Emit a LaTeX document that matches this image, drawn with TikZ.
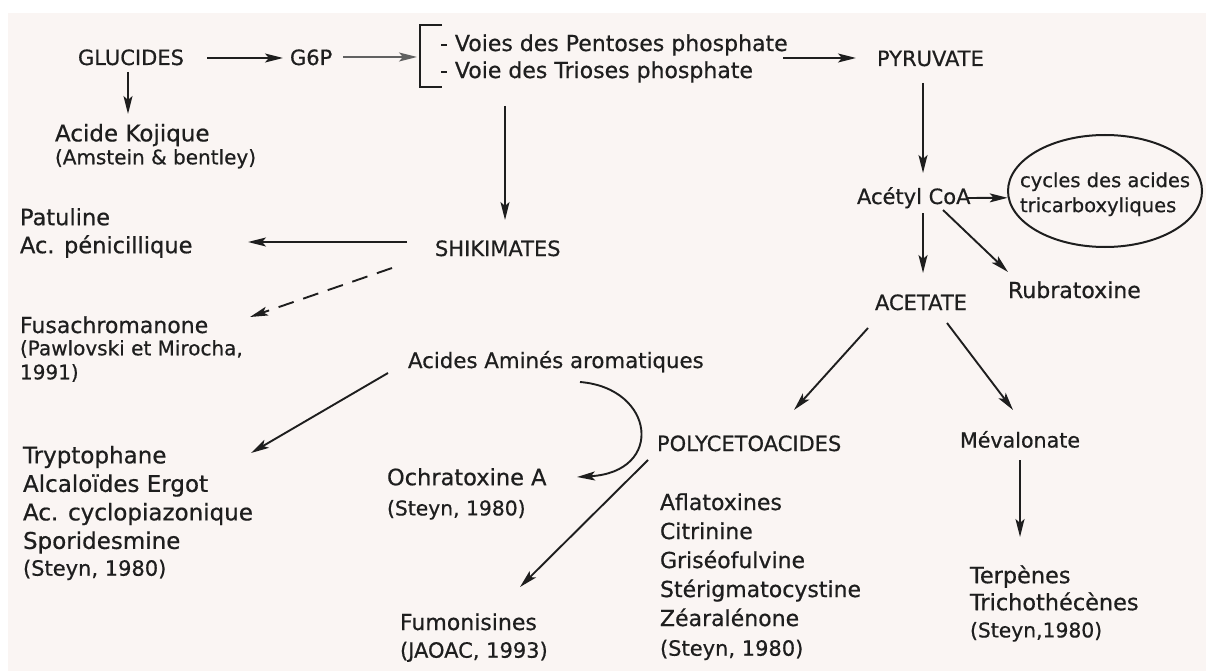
\documentclass[tikz,border=0pt]{standalone}
\usepackage{fontspec}
\setmainfont{DejaVu Sans}[UprightFeatures={FakeBold=0.6}]
\usetikzlibrary{arrows.meta,shapes.geometric}
\definecolor{ink}{RGB}{30,30,30}
\definecolor{paper}{RGB}{250,245,243}
\newcommand\fsz[2]{\fontsize{#1}{#2}\selectfont}
\begin{document}
\begin{tikzpicture}[x=1pt,y=-1pt,
  lbl/.style={inner sep=0pt, outer sep=0pt, text=ink, anchor=base west},
  blk/.style={inner sep=0pt, outer sep=0pt, text=ink, anchor=north west, align=left},
  arr/.style={draw=ink, line width=1.9pt, -{Stealth[length=18pt,width=9pt,inset=4pt]}},
  dasharr/.style={arr, dash pattern=on 16pt off 10pt},
  greyarr/.style={arr, draw=ink!70, line width=1.5pt},
  brack/.style={draw=ink, line width=2.2pt},
  cyclebox/.style={draw=ink, line width=2pt, ellipse, minimum width=194pt, minimum height=112pt, inner sep=0pt}
  ]
\useasboundingbox (0,0) rectangle (1206,671);
\fill[white] (0,0) rectangle (1206,671);
\fill[paper] (8,13) rectangle (1206,671);

% top row
\node[lbl, font=\fsz{21}{25}] (glu) at (78,65) {GLUCIDES};
\node[lbl, font=\fsz{21}{25}] (g6p) at (290,65) {G6P};
\node[blk, font=\fsz{22}{27}] (voies) at (440,34.3) {- Voies des Pentoses phosphate\\- Voie des Trioses phosphate};
\node[lbl, font=\fsz{21}{25}] (pyr) at (877,66) {PYRUVATE};

% left column
\node[lbl, font=\fsz{23}{27}] (kojic) at (55,141.4) {Acide Kojique};
\node[lbl, font=\fsz{20}{24}] (kojiccit) at (55,164.3) {(Amstein \& bentley)};
\node[blk, font=\fsz{22.5}{28}] (patu) at (20,208.1) {Patuline\\Ac. pénicillique};
\node[lbl, font=\fsz{22}{26}] (fusa) at (20,333) {Fusachromanone};
\node[blk, font=\fsz{20}{24}] (fusacit) at (20,340.1) {(Pawlovski et Mirocha,\\1991)};
\node[blk, font=\fsz{23}{28.5}] (tryp) at (23,445.9) {Tryptophane\\Alcaloïdes Ergot\\Ac. cyclopiazonique\\Sporidesmine};
\node[lbl, font=\fsz{21}{25}] (trypcit) at (23,575.7) {(Steyn, 1980)};

% middle
\node[lbl, font=\fsz{21}{25}] (shik) at (435,256) {SHIKIMATES};
\node[lbl, font=\fsz{21.3}{25}] (aa) at (408,368) {Acides Aminés aromatiques};
\node[lbl, font=\fsz{22.5}{27}] (ochra) at (387,485.2) {Ochratoxine A};
\node[lbl, font=\fsz{20.3}{24}] (ochracit) at (387,515.4) {(Steyn, 1980)};
\node[lbl, font=\fsz{22}{26}] (fumo) at (400,630) {Fumonisines};
\node[lbl, font=\fsz{21}{25}] (fumocit) at (400,657.7) {(JAOAC, 1993)};
\node[lbl, font=\fsz{21}{25}] (poly) at (657,451) {POLYCETOACIDES};
\node[blk, font=\fsz{22}{29}] (afla) at (660,493.3) {Aflatoxines\\Citrinine\\Griséofulvine\\Stérigmatocystine\\Zéaralénone};
\node[lbl, font=\fsz{21}{25}] (aflacit) at (660,655.7) {(Steyn, 1980)};

% right column
\node[lbl, font=\fsz{21}{25}] (acoa) at (857,204) {Acétyl CoA};
\node[cyclebox] (ell) at (1105,191) {};
\node[blk, font=\fsz{19.5}{25}] (cyc) at (1020,172.3) {cycles des acides\\tricarboxyliques};
\node[lbl, font=\fsz{22}{26}] (rubra) at (1008,298) {Rubratoxine};
\node[lbl, font=\fsz{21}{25}] (acet) at (875,310) {ACETATE};
\node[lbl, font=\fsz{20.6}{25}] (meva) at (960,447.5) {Mévalonate};
\node[blk, font=\fsz{22.4}{27}] (terp) at (970,565.3) {Terpènes\\Trichothécènes};
\node[lbl, font=\fsz{20.3}{24}] (terpcit) at (970,637.4) {(Steyn,1980)};

% bracket
\draw[brack] ([shift={(2,-9.3)}]voies.north west) -- ([shift={(-20,-9.3)}]voies.north west)
  -- ([shift={(-20,52.7)}]voies.north west) -- ([shift={(2,52.7)}]voies.north west);
\coordinate (brk) at ([shift={(-23,22.7)}]voies.north west);

% connectors
\draw[arr] ([shift={(129,-7)}]glu.base west) -- ([shift={(-7,-7)}]g6p.base west);
\draw[greyarr] ([shift={(53,-8)}]g6p.base west) -- (brk);
\draw[arr] ([shift={(343,23.7)}]voies.north west) -- ([shift={(-21,-8)}]pyr.base west);
\draw[arr] ([shift={(65,71.7)}]voies.north west) -- ([shift={(70,-36)}]shik.base west);
\draw[arr] ([shift={(46,17)}]pyr.base west) -- ([shift={(66,-31)}]acoa.base west);
\draw[arr] ([shift={(109,-6)}]acoa.base west) -- (ell.184);
\draw[arr] ([shift={(66,9)}]acoa.base west) -- ([shift={(48,-37)}]acet.base west);
\draw[arr] ([shift={(86,6)}]acoa.base west) -- ([shift={(0,-26)}]rubra.base west);
\draw[arr] ([shift={(-7,18)}]acet.base west) -- ([shift={(137,-41)}]poly.base west);
\draw[arr] ([shift={(72,13)}]acet.base west) -- ([shift={(53,-37.5)}]meva.base west);
\draw[arr] ([shift={(60,12.5)}]meva.base west) -- ([shift={(50,-28.3)}]terp.north west);
\draw[arr] ([shift={(50,7)}]glu.base west) -- ([shift={(73,-27.4)}]kojic.base west);
\draw[arr] ([shift={(-28,-14)}]shik.base west) -- ([shift={(228,33.9)}]patu.north west);
\draw[dasharr] ([shift={(-43,12)}]shik.base west) -- ([shift={(230,-16)}]fusa.base west);
\draw[arr] ([shift={(-20,5)}]aa.base west) -- ([shift={(228,7.1)}]tryp.north west);
\draw[arr] ([shift={(172,14)}]aa.base west) .. controls +(75,6) and +(88,-5) .. ([shift={(190,-8.2)}]ochra.base west);
\draw[arr] ([shift={(-9,9)}]poly.base west) -- ([shift={(120,-43)}]fumo.base west);
\end{tikzpicture}
\end{document}
